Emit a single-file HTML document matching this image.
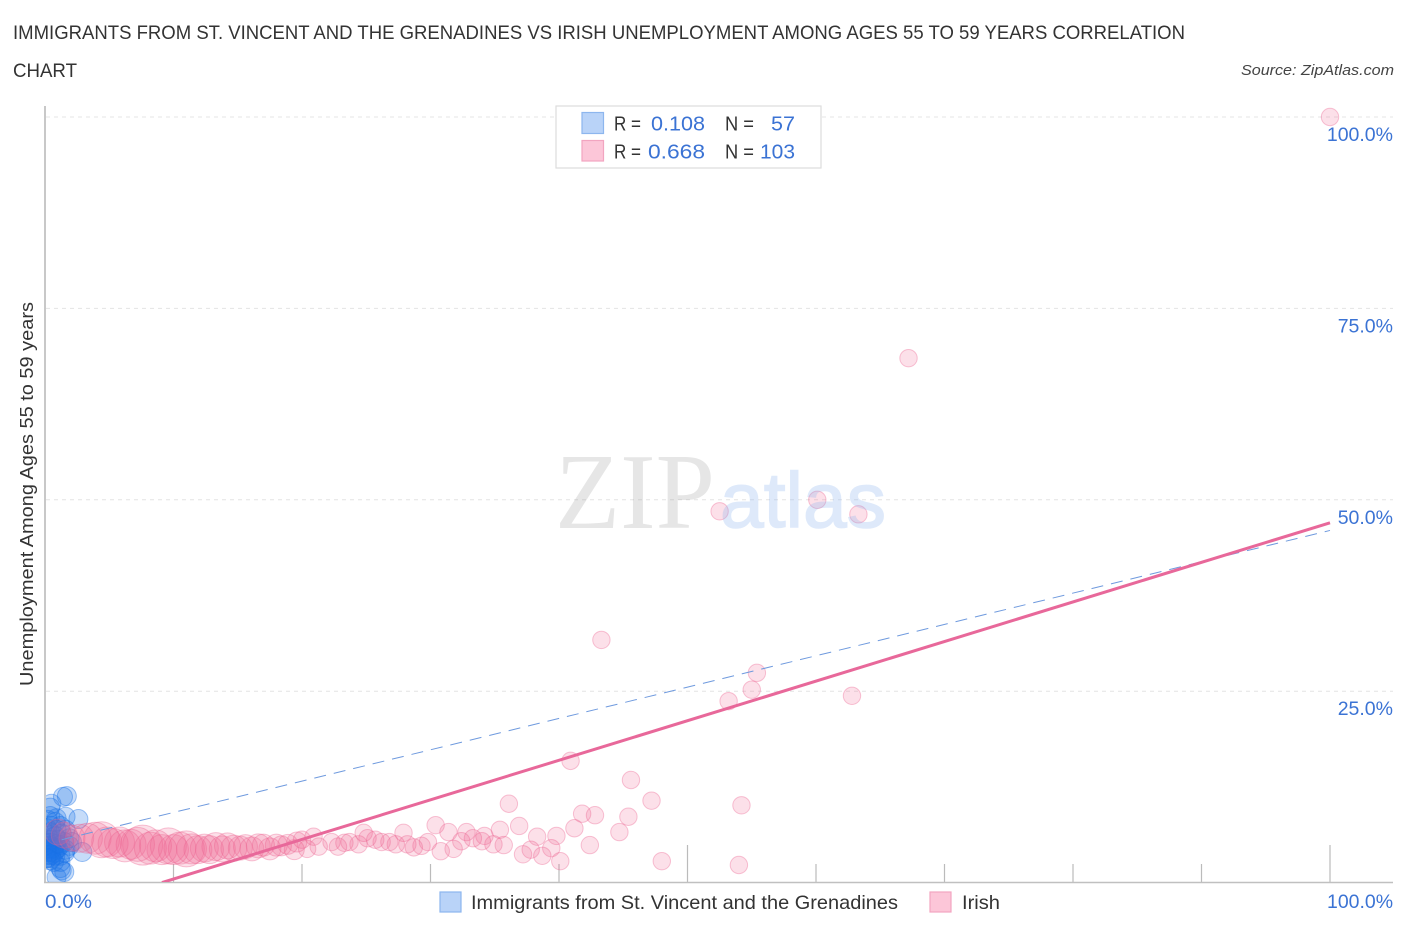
<!DOCTYPE html>
<html lang="en">
<head>
<meta charset="utf-8">
<title>Immigrants from St. Vincent and the Grenadines vs Irish Unemployment Correlation Chart</title>
<style>
html,body{margin:0;padding:0;background:#fff;}
svg{display:block;font-family:"Liberation Sans",sans-serif;}
</style>
</head>
<body>
<svg id="chart" xmlns="http://www.w3.org/2000/svg" width="1406" height="930" viewBox="0 0 1406 930">
  <defs>
    <clipPath id="plot-clip"><rect x="46" y="100" width="1350" height="782"></rect></clipPath>
  </defs>
  <rect x="0" y="0" width="1406" height="930" fill="#ffffff"></rect>
  <text x="13" y="39" font-size="19" fill="#333333" textLength="1172" lengthAdjust="spacingAndGlyphs">IMMIGRANTS FROM ST. VINCENT AND THE GRENADINES VS IRISH UNEMPLOYMENT AMONG AGES 55 TO 59 YEARS CORRELATION</text>
  <text x="13" y="77" font-size="19" fill="#333333" textLength="64" lengthAdjust="spacingAndGlyphs">CHART</text>
  <text x="1394" y="75" font-size="15" font-style="italic" fill="#444444" text-anchor="end" textLength="153" lengthAdjust="spacingAndGlyphs">Source: ZipAtlas.com</text>
  <g id="grid"></g>
  <g id="y-tick-labels"></g>
  <g id="x-ticks"></g>
  <line x1="45" y1="106" x2="45" y2="883" stroke="#b0b0b0" stroke-width="1.4"></line>
  <line x1="44" y1="882.5" x2="1393" y2="882.5" stroke="#c0c0c0" stroke-width="1.5"></line>
  <g clip-path="url(#plot-clip)">
    <g id="blue-points"></g>
    <g id="pink-points"></g>
    <line id="blue-trend" stroke="#6f9ade" stroke-width="1" stroke-dasharray="12 8"></line>
    <line id="pink-trend" stroke="#e8689a" stroke-width="3"></line>
  </g>
  <g>
    <text x="555" y="528" font-family="'Liberation Serif',serif" font-size="108" fill="#9a9a9a" fill-opacity="0.25" textLength="160" lengthAdjust="spacingAndGlyphs">ZIP</text>
    <text x="720" y="527" font-family="'Liberation Sans',sans-serif" font-size="78" fill="#8ab4f0" stroke="#8ab4f0" stroke-width="1.5" opacity="0.28" textLength="166" lengthAdjust="spacingAndGlyphs">atlas</text>
  </g>
  <text transform="translate(33 686) rotate(-90)" font-size="18" fill="#333333" textLength="384" lengthAdjust="spacingAndGlyphs">Unemployment Among Ages 55 to 59 years</text>
  <text x="45" y="908" font-size="19.5" fill="#3b73d4" textLength="47" lengthAdjust="spacingAndGlyphs">0.0%</text>
  <text x="1393" y="908" font-size="19.5" fill="#3b73d4" text-anchor="end" textLength="66" lengthAdjust="spacingAndGlyphs">100.0%</text>

  <g>
    <rect x="556" y="106" width="265" height="62" fill="#ffffff" stroke="#dddddd" stroke-width="1.2"></rect>
    <rect x="582" y="112.5" width="21.5" height="21" fill="#b9d3f8" stroke="#8db6ee" stroke-width="1.2"></rect>
    <rect x="582" y="140.5" width="21.5" height="20.5" fill="#fcc6d8" stroke="#f2a5c0" stroke-width="1.2"></rect>
    <text x="614" y="130.5" font-size="20" fill="#333333" textLength="27" lengthAdjust="spacingAndGlyphs">R =</text>
    <text x="705" y="130.5" font-size="20" fill="#3b73d4" text-anchor="end" textLength="54" lengthAdjust="spacingAndGlyphs">0.108</text>
    <text x="725" y="130.5" font-size="20" fill="#333333" textLength="29" lengthAdjust="spacingAndGlyphs">N =</text>
    <text x="795" y="130.5" font-size="20" fill="#3b73d4" text-anchor="end" textLength="24" lengthAdjust="spacingAndGlyphs">57</text>
    <text x="614" y="158.5" font-size="20" fill="#333333" textLength="27" lengthAdjust="spacingAndGlyphs">R =</text>
    <text x="705" y="158.5" font-size="20" fill="#3b73d4" text-anchor="end" textLength="57" lengthAdjust="spacingAndGlyphs">0.668</text>
    <text x="725" y="158.5" font-size="20" fill="#333333" textLength="29" lengthAdjust="spacingAndGlyphs">N =</text>
    <text x="795" y="158.5" font-size="20" fill="#3b73d4" text-anchor="end" textLength="35" lengthAdjust="spacingAndGlyphs">103</text>
  </g>

  <g>
    <rect x="440" y="892" width="21" height="20" fill="#b9d3f8" stroke="#8db6ee" stroke-width="1.2"></rect>
    <text x="471" y="909" font-size="19.5" fill="#333333" textLength="427" lengthAdjust="spacingAndGlyphs">Immigrants from St. Vincent and the Grenadines</text>
  </g>
  <g>
    <rect x="930" y="892" width="21" height="20" fill="#fcc6d8" stroke="#f2a5c0" stroke-width="1.2"></rect>
    <text x="962" y="909" font-size="19.5" fill="#333333" textLength="38" lengthAdjust="spacingAndGlyphs">Irish</text>
  </g>
</svg>
<script>
const yTickValues = [25, 50, 75, 100];
const yTickLabels = ["25.0%", "50.0%", "75.0%", "100.0%"];
const xTickValues = [10, 20, 30, 40, 50, 60, 70, 80, 90, 100];
const xTickMajor = [50, 100];

const blueX = [1.4,1.7,0.5,0.4,1.6,2.6,0.9,0.4,0.2,0.8,0.5,1.2,0.15,1.6,0.9,0.4,1.3,0.2,0.8,1.9,0.1,0.5,1.0,1.5,0.2,0.45,0.85,1.2,0.1,0.4,0.7,1.0,1.9,0.15,0.5,0.85,0.1,0.4,0.7,2.9,1.55,0.15,0.45,0.8,0.2,0.5,1.6,1.2,1.3,1.2,0.9,1.5,0.4,0.7,0.1,2.1,1.2];
const blueY = [11.2,11.3,10.3,9.8,8.6,8.3,8.4,8.7,8.2,7.9,7.4,7.4,7.1,6.9,6.9,6.6,6.4,6.1,6.1,5.8,5.6,5.6,5.6,5.3,5.2,5.2,5.0,4.9,4.8,4.8,4.6,4.5,4.8,4.4,4.4,4.3,4.0,4.0,3.9,4.0,3.9,3.6,3.6,3.5,3.2,3.2,4.3,3.5,1.6,1.9,0.7,1.4,2.9,2.7,3.2,5.3,2.7];

const irishBandX = [1.0,1.5,2.1,2.7,3.3,3.9,4.4,4.8,5.3,5.8,6.2,6.7,7.2,7.6,8.2,8.6,9.1,9.6,10.0,10.5,11.0,11.4,11.9,12.4,12.8,13.3,13.8,14.2,14.7,15.2,15.6,16.1,16.6,17.0,17.5,18.0,18.4,18.9,19.4,19.6];
const irishBandY = [6.6,6.2,5.8,5.8,5.8,5.8,5.6,5.3,5.1,5.3,4.8,5.0,5.0,4.9,4.5,4.8,4.3,4.8,4.3,4.5,4.4,4.4,4.3,4.5,4.3,4.7,4.4,4.8,4.5,4.5,4.7,4.4,4.8,4.9,4.4,4.9,4.8,5.0,4.3,5.3];
const irishBandWeight = [13,13,13,14,15,16,18,15,15,15,16,15,17,20,16,16,15,18,15,16,18,15,14,14,14,14,13,13,13,12,12,12,12,11,11,11,10,10,10,10];

const irishX = [100,67.2,52.5,60.1,63.3,43.3,55.4,55.0,53.2,62.8,40.9,45.6,47.2,54.2,36.1,41.8,42.8,45.4,36.9,30.4,35.4,41.2,44.7,39.8,38.3,42.4,39.4,37.8,37.2,38.7,40.1,48.0,54.0,31.4,32.8,34.2,35.7,34.9,34.0,33.3,32.4,31.8,30.8,29.8,29.3,28.7,28.2,27.9,27.3,26.8,26.2,25.7,25.1,24.8,24.4,23.7,23.3,22.8,22.3,21.3,20.9,20.4,20.0];
const irishY = [100,68.5,48.5,50.0,48.1,31.7,27.4,25.2,23.7,24.4,15.9,13.4,10.7,10.1,10.3,9.0,8.8,8.6,7.4,7.5,6.9,7.1,6.6,6.1,6.0,4.9,4.5,4.3,3.7,3.5,2.8,2.8,2.3,6.6,6.6,6.1,4.9,5.0,5.4,5.8,5.4,4.4,4.1,5.3,4.8,4.6,5.0,6.5,5.0,5.3,5.3,5.6,5.8,6.5,5.0,5.3,5.2,4.7,5.3,4.7,6.0,4.4,5.6];

const blueTrendX = [1.3, 100];
const blueTrendY = [5.6, 46.0];
const irishTrendX = [9.1, 100];
const irishTrendY = [0, 47.0];

function xScale(v) { return 45 + v * 12.85; }
function yScale(v) { return 882.6 - v * 7.656; }

const SVG_NS = "http://www.w3.org/2000/svg";
function make(tag, attrs, parent) {
  const el = document.createElementNS(SVG_NS, tag);
  for (const k in attrs) el.setAttribute(k, attrs[k]);
  parent.appendChild(el);
  return el;
}

const gridG = document.getElementById("grid");
const yLabelG = document.getElementById("y-tick-labels");
yTickValues.forEach(function (v, i) {
  const line = make("line", { x1: 46, x2: 1393, y1: yScale(v), y2: yScale(v), stroke: "#e4e4e4", "stroke-width": 1, "stroke-dasharray": "4 4" }, gridG);
  
  
  const label = make("text", { x: 1393, y: yScale(v) + 24, "font-size": 19.5, fill: "#3b73d4", "text-anchor": "end" }, yLabelG);
  
  
  label.textContent = yTickLabels[i];
});

const xTickG = document.getElementById("x-ticks");
xTickValues.forEach(function (v) {
  const top = xTickMajor.indexOf(v) >= 0 ? 845 : 864;
  const tick = make("line", { x1: xScale(v), x2: xScale(v), y1: top, y2: 882, stroke: "#bbbbbb", "stroke-width": 1.2 }, xTickG);
  
  
});

const blueG = document.getElementById("blue-points");
blueX.forEach(function (v, i) {
  const c = make("circle", { cx: xScale(v), cy: yScale(blueY[i]), r: 9.5, fill: "#1a73e8", "fill-opacity": 0.25, stroke: "#1a73e8", "stroke-opacity": 0.42, "stroke-width": 1 }, blueG);
  
  
});

const pinkG = document.getElementById("pink-points");
function drawPink(x, y, r) {
  const c = make("circle", { cx: xScale(x), cy: yScale(y), r: r, fill: "#f06292", "fill-opacity": 0.2, stroke: "#ec5f8e", "stroke-opacity": 0.36, "stroke-width": 1 }, pinkG);
  
  
}
irishBandX.forEach(function (v, i) { drawPink(v, irishBandY[i], irishBandWeight[i]); });
irishX.forEach(function (v, i) { drawPink(v, irishY[i], 8.7); });

function placeLine(id, xs, ys) {
  const el = document.getElementById(id);
  el.setAttribute("x1", xScale(xs[0]));
  el.setAttribute("y1", yScale(ys[0]));
  el.setAttribute("x2", xScale(xs[1]));
  el.setAttribute("y2", yScale(ys[1]));
}
placeLine("blue-trend", blueTrendX, blueTrendY);
placeLine("pink-trend", irishTrendX, irishTrendY);
</script>
</body>
</html>
